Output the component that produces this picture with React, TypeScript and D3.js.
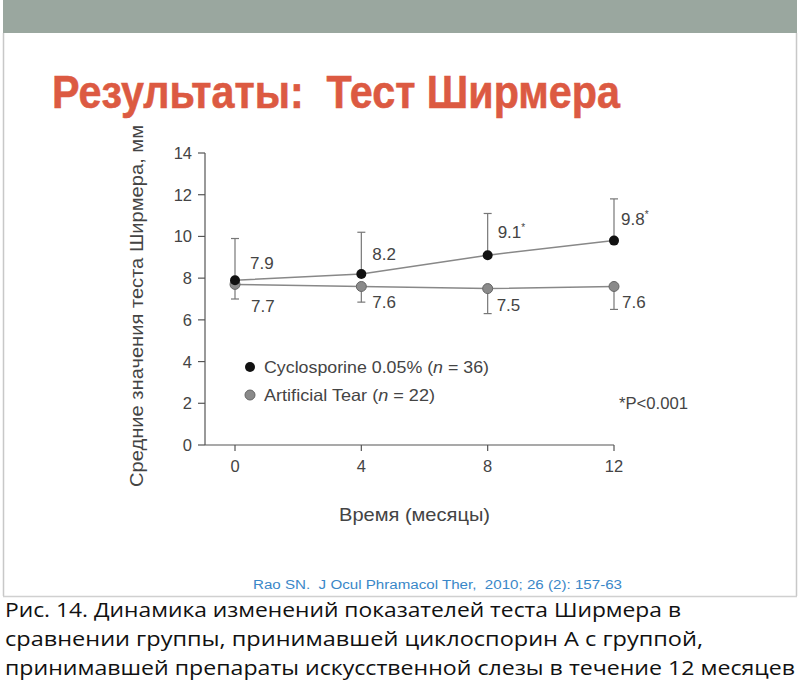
import React from "react";
import * as d3 from "d3";

const months = [0, 4, 8, 12];
const cycloMean = [7.9, 8.2, 9.1, 9.8];
const cycloUpper = [9.9, 10.2, 11.1, 11.8];
const tearMean = [7.7, 7.6, 7.5, 7.6];
const tearLower = [7.0, 6.85, 6.3, 6.5];
const cycloLabels = ["7.9", "8.2", "9.1", "9.8"];
const cycloStars = [false, false, true, true];
const tearLabels = ["7.7", "7.6", "7.5", "7.6"];
const yTicks = [0, 2, 4, 6, 8, 10, 12, 14];
const xTicks = [0, 4, 8, 12];
const captionLines = [
  "Рис. 14. Динамика изменений показателей теста Ширмера в",
  "сравнении группы, принимавшей циклоспорин А с группой,",
  "принимавшей препараты искусственной слезы в течение 12 месяцев",
];

export default function App() {
  const W = 800, H = 697;
  const x = d3.scaleLinear().domain([0, 12]).range([235, 614]);
  const y = d3.scaleLinear().domain([0, 14]).range([445, 153]);
  const line = d3.line<number>().x((_, i) => x(months[i])).y((d) => y(d));
  const font = "Liberation Sans, Arial, sans-serif";
  const axisCol = "#555";
  const textCol = "#444";
  const cycloDx = [15, 11, 10, 7];
  const cycloDy = [30, 28, 25, 26];
  const tearDx = [16, 11, 9, 8];
  const tearDy = [28, 22, 22, 22];
  return (
    <svg width={W} height={H} style={{ position: "absolute", left: 0, top: 0 }}>
      <rect x={0} y={0} width={W} height={H} fill="#fff" />
      {/* header bar */}
      <rect x={3} y={0} width={794} height={33} fill="#9aa79f" />
      {/* slide frame */}
      <line x1={3.5} y1={33} x2={3.5} y2={596} stroke="#c8c8c8" strokeWidth={1.5} />
      <line x1={796.5} y1={33} x2={796.5} y2={596} stroke="#c8c8c8" strokeWidth={1.5} />
      <line x1={3} y1={596.5} x2={797} y2={596.5} stroke="#d0d0d0" strokeWidth={1.5} />
      {/* title */}
      <text x={52} y={108} fontFamily={font} fontWeight="bold" fontSize={47} fill="#dc5a42"
        style={{ whiteSpace: "pre" }} stroke="#dc5a42" strokeWidth={0.6}
        textLength={568} lengthAdjust="spacingAndGlyphs">{"Результаты:  Тест Ширмера"}</text>
      {/* axes */}
      <line x1={205} y1={y(14)} x2={205} y2={y(0)} stroke={axisCol} strokeWidth={1.2} />
      <line x1={205} y1={y(0)} x2={x(12)} y2={y(0)} stroke={axisCol} strokeWidth={1.2} />
      {yTicks.map((t) => (
        <g key={"y" + t}>
          <line x1={198} x2={205} y1={y(t)} y2={y(t)} stroke={axisCol} strokeWidth={1.2} />
          <text x={192} y={y(t)} dy="0.36em" textAnchor="end" fontFamily={font} fontSize={16.5} fill={textCol}>{t}</text>
        </g>
      ))}
      {xTicks.map((t) => (
        <g key={"x" + t}>
          <line x1={x(t)} x2={x(t)} y1={y(0)} y2={y(0) + 6} stroke={axisCol} strokeWidth={1.2} />
          <text x={x(t)} y={472} textAnchor="middle" fontFamily={font} fontSize={16.5} fill={textCol}>{t}</text>
        </g>
      ))}
      {/* axis titles */}
      <text transform={`translate(143,306) rotate(-90)`} textAnchor="middle" fontFamily={font} fontSize={18}
        fill={textCol} textLength={362} lengthAdjust="spacingAndGlyphs">Средние значения теста Ширмера, мм</text>
      <text x={339} y={521} fontFamily={font} fontSize={19} fill={textCol}
        textLength={151} lengthAdjust="spacingAndGlyphs">Время (месяцы)</text>
      {/* error bars */}
      {months.map((m, i) => (
        <g key={"ec" + i} stroke="#777" strokeWidth={1.2}>
          <line x1={x(m)} x2={x(m)} y1={y(cycloMean[i])} y2={y(cycloUpper[i])} />
          <line x1={x(m) - 4} x2={x(m) + 4} y1={y(cycloUpper[i])} y2={y(cycloUpper[i])} />
        </g>
      ))}
      {months.map((m, i) => (
        <g key={"et" + i} stroke="#777" strokeWidth={1.2}>
          <line x1={x(m)} x2={x(m)} y1={y(tearMean[i])} y2={y(tearLower[i])} />
          <line x1={x(m) - 4} x2={x(m) + 4} y1={y(tearLower[i])} y2={y(tearLower[i])} />
        </g>
      ))}
      {/* lines */}
      <path d={line(tearMean) || ""} fill="none" stroke="#888" strokeWidth={1.5} />
      <path d={line(cycloMean) || ""} fill="none" stroke="#888" strokeWidth={1.5} />
      {months.map((m, i) => (
        <circle key={"pt" + i} cx={x(m)} cy={y(tearMean[i])} r={5} fill="#8a8a8a" stroke="#666" strokeWidth={1} />
      ))}
      {months.map((m, i) => (
        <circle key={"pc" + i} cx={x(m)} cy={y(cycloMean[i])} r={5} fill="#111" />
      ))}
      {/* value labels */}
      {months.map((m, i) => (
        <text key={"lc" + i} x={x(m) + cycloDx[i]} y={y(cycloUpper[i]) + cycloDy[i]}
          fontFamily={font} fontSize={17} fill={textCol}>
          {cycloLabels[i]}
          {cycloStars[i] ? <tspan dy={-7} fontSize={10}>*</tspan> : null}
        </text>
      ))}
      {months.map((m, i) => (
        <text key={"lt" + i} x={x(m) + tearDx[i]} y={y(tearMean[i]) + tearDy[i]}
          fontFamily={font} fontSize={17} fill={textCol}>{tearLabels[i]}</text>
      ))}
      {/* legend */}
      <circle cx={250} cy={367} r={5} fill="#111" />
      <text x={264} y={373} fontFamily={font} fontSize={16.5} fill={textCol} textLength={225} lengthAdjust="spacingAndGlyphs">
        Cyclosporine 0.05% (<tspan fontStyle="italic">n</tspan> = 36)
      </text>
      <circle cx={250} cy={395} r={5} fill="#8a8a8a" stroke="#666" strokeWidth={1} />
      <text x={264} y={401} fontFamily={font} fontSize={16.5} fill={textCol} textLength={171} lengthAdjust="spacingAndGlyphs">
        Artificial Tear (<tspan fontStyle="italic">n</tspan> = 22)
      </text>
      <text x={619} y={409} fontFamily={font} fontSize={16} fill={textCol} textLength={69} lengthAdjust="spacingAndGlyphs">*P&lt;0.001</text>
      {/* citation */}
      <text x={253} y={589} fontFamily={font} fontSize={12} fill="#3a87c8" textLength={369}
        style={{ whiteSpace: "pre" }}
        lengthAdjust="spacingAndGlyphs">{"Rao SN.  J Ocul Phramacol Ther,  2010; 26 (2): 157-63"}</text>
      {/* caption */}
      {captionLines.map((l, i) => (
        <text key={"cap" + i} x={5} y={617 + i * 29} fontFamily="Open Sans, sans-serif" fontSize={20} fill="#111"
          textLength={[676, 698, 790][i]} lengthAdjust="spacingAndGlyphs">{l}</text>
      ))}
    </svg>
  );
}
